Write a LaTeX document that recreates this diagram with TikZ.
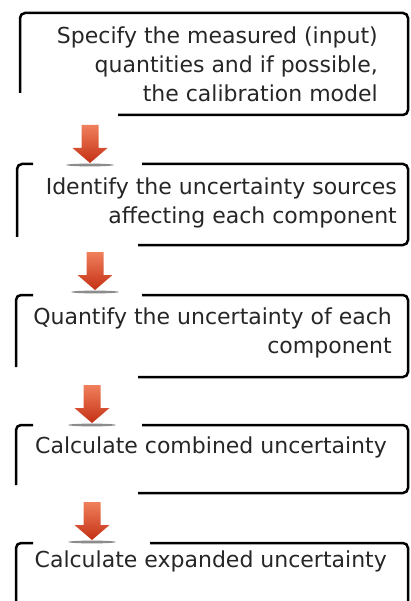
\documentclass[tikz,border=0pt]{standalone}
\usepackage{fontspec}
\setmainfont{DejaVu Sans}
\usepackage{tikz}

\tikzset{
  steptext/.style={anchor=east, inner sep=0pt, align=right, text=black!85,
    font=\fontsize{22}{29}\selectfont},
  frame/.style={line width=2.5pt, rounded corners=5pt},
  downarr/.pic={
    % shadow under the tip
    \fill [black!45] (0,-2) ellipse (24 and 1.4);
    % block arrow
    \shade [top color={rgb,255:red,240;green,128;blue,92}, bottom color={rgb,255:red,196;green,48;blue,20}]
      (-8.5,38) -- (8.5,38) -- (8.5,15) -- (17.5,15) -- (0,0) -- (-17.5,15) -- (-8.5,15) -- cycle ;
  }
}

\begin{document}
\begin{tikzpicture}[x=1pt,y=1pt,yscale=-1,xscale=1]
\useasboundingbox (0,0) rectangle (410,601);

%Shape: Box 1
\draw [frame] (118,115) -- (408,115) -- (408,13) -- (20,13) -- (20,93) ;
%Shape: Box 2
\draw [frame] (138,245) -- (408,245) -- (408,164) -- (142,164) ;
\draw [frame] (33,164) -- (17,164) -- (17,237) ;
%Shape: Box 3
\draw [frame] (138,377) -- (408,377) -- (408,295) -- (142,295) ;
\draw [frame] (33,295) -- (16,295) -- (16,367) ;
%Shape: Box 4
\draw [frame] (138,493) -- (408,493) -- (408,425) -- (142,425) ;
\draw [frame] (33,425) -- (16,425) -- (16,485) ;
%Shape: Box 5
\draw [frame] (408,610) -- (408,543) -- (150,543) ;
\draw [frame] (33,543) -- (16,543) -- (16,610) ;

%Arrows
\coordinate (tip1) at (90,163);
\coordinate (tip2) at (95,290);
\coordinate (tip3) at (92,423);
\coordinate (tip4) at (92,540);
\pic at (tip1) {downarr};
\pic at (tip2) {downarr};
\pic at (tip3) {downarr};
\pic at (tip4) {downarr};

% Text Node
\node [steptext] (spec) at (378,64) {Specify the measured (input)\\quantities and if possible,\\the calibration model};
% Text Node
\node [steptext] (ident) at (397,203) {Identify the uncertainty sources\\affecting each component};
% Text Node
\node [steptext] (quant) at (392,333) {Quantify the uncertainty of each\\component};
% Text Node
\node [steptext] (comb) at (387,447) {Calculate combined uncertainty};
% Text Node
\node [steptext] (expd) at (387,561) {Calculate expanded uncertainty};

\end{tikzpicture}
\end{document}
